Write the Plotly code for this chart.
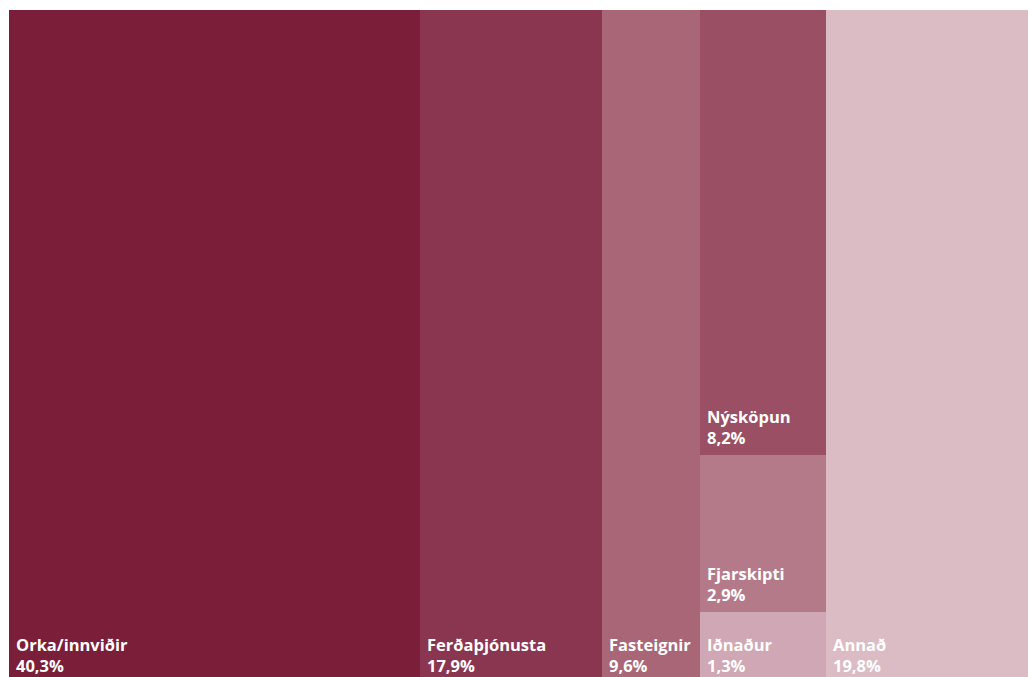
import plotly.graph_objects as go

# shares of the total, in percent
labels = ["Orka/innviðir", "Ferðaþjónusta", "Fasteignir",
          "Iðnaður", "Fjarskipti", "Nýsköpun", "Annað"]
shares = [40.3, 17.9, 9.6, 1.3, 2.9, 8.2, 19.8]
column = [0, 1, 2, 3, 3, 3, 4]   # tiles sharing a column are stacked
colors = ["#7a1e39", "#8a3650", "#a86677", "#d0a7b4",
          "#b57a8a", "#9a4f64", "#dbbcc5"]

# column widths and left edges
col_sum = {}
for c, s in zip(column, shares):
    col_sum[c] = col_sum.get(c, 0) + s
col_left = {}
acc = 0
for c in sorted(col_sum):
    col_left[c] = acc
    acc += col_sum[c]

fig = go.Figure()
stack = {}
for lab, s, c, col in zip(labels, shares, column, colors):
    base = stack.get(c, 0)
    h = s / col_sum[c]
    stack[c] = base + h
    fig.add_trace(go.Bar(
        x=[col_left[c] + col_sum[c] / 2], y=[h], base=[base],
        width=[col_sum[c]], marker=dict(color=col, line=dict(width=0)),
        showlegend=False, hoverinfo="skip"
    ))
    pct = f"{s:.1f}".replace(".", ",") + "%"
    fig.add_annotation(
        x=col_left[c], y=base, xref="x", yref="y",
        text=f"<b>{lab}</b><br><b>{pct}</b>",
        showarrow=False, xanchor="left", yanchor="bottom", align="left",
        xshift=5, yshift=4,
        font=dict(family="Open Sans", size=16.5, color="white")
    )

# bottom few pixels of the tiles run past the window edge
fig.update_layout(
    width=1028, height=683,
    margin=dict(l=9, r=0, t=10, b=0),
    paper_bgcolor="white", plot_bgcolor="white",
    barmode="overlay", bargap=0,
    xaxis=dict(range=[0, 100], visible=False, fixedrange=True),
    yaxis=dict(range=[0, 1], visible=False, fixedrange=True),
)

fig.write_html(
    "out.html",
    config={"displayModeBar": False},
    post_script="document.body.style.margin='0';"
                "document.body.style.overflow='hidden';"
)
